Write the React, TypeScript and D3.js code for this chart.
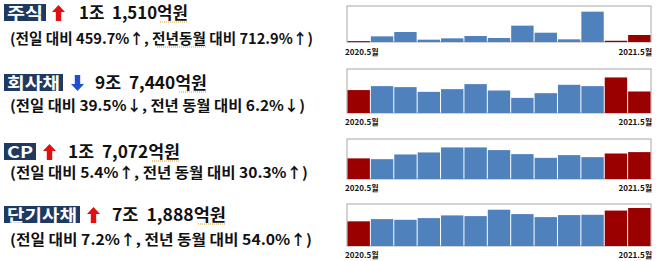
import React from "react";
import * as d3 from "d3";

const months = ["2020.5","2020.6","2020.7","2020.8","2020.9","2020.10","2020.11","2020.12","2021.1","2021.2","2021.3","2021.4","2021.5"];
const stockValues = [1416, 9300, 16400, 3800, 6000, 9900, 6600, 26900, 15300, 4400, 49900, 2056, 11510];
const corpBondValues = [103880, 121800, 117200, 95900, 108100, 130900, 102000, 68500, 89800, 127800, 121800, 161060, 97440];
const cpValues = [13102, 12590, 15580, 16860, 20060, 20060, 18350, 15790, 13440, 15150, 13870, 16197, 17072];
const shortBondValues = [46680, 50900, 49600, 52800, 57900, 56600, 68700, 60400, 54700, 58500, 59100, 67060, 71888];
const highlightIdx = [0, 11, 12];
const axisLabels = ["2020.5월", "2021.5월"];

const titles = ["주식", "회사채", "CP", "단기사채"];
const directions = ["up", "down", "up", "up"];
const amounts = ["1조  1,510억원", "9조  7,440억원", "1조  7,072억원", "7조  1,888억원"];
const details = [
  "(전일 대비 459.7%↑, 전년동월 대비 712.9%↑)",
  "(전일 대비 39.5%↓, 전년 동월 대비 6.2%↓)",
  "(전일 대비 5.4%↑, 전년 동월 대비 30.3%↑)",
  "(전일 대비 7.2%↑, 전년 동월 대비 54.0%↑)",
];

const FONT = "'Noto Sans CJK KR', 'Noto Sans', sans-serif";
const BLUE = "#4f81bd";
const RED = "#9b0000";
const NAVY = "#1f3a60";

const rows = [
  { values: stockValues, max: 59200, top: 6, base: 42, label: 55, boxTop: 4, boxX: [4, 46], arrowX: 52, amtX: [79, 188], detW: 303, detY: 44 },
  { values: corpBondValues, max: 199400, top: 69, base: 113, label: 125, boxTop: 74, boxX: [4, 63], arrowX: 71, amtX: [95, 207], detW: 295, detY: 111 },
  { values: cpValues, max: 25400, top: 139, base: 179, label: 191, boxTop: 143, boxX: [4, 36], arrowX: 43, amtX: [68, 180], detW: 298, detY: 178 },
  { values: shortBondValues, max: 79500, top: 204, base: 246, label: 258, boxTop: 206, boxX: [4, 80], arrowX: 87, amtX: [112, 226], detW: 302, detY: 245 },
];

const X0 = 347;
const X1 = 651;

function Arrow({ x, y, dir }: { x: number; y: number; dir: string }) {
  const w = 13, h = 16;
  const color = dir === "up" ? "#e01010" : "#1f4fd0";
  const s0 = 3.8, s1 = 9.2, hh = 7;
  let pts: [number, number][];
  if (dir === "up") {
    pts = [[x + w / 2, y], [x + w, y + hh], [x + s1, y + hh], [x + s1, y + h], [x + s0, y + h], [x + s0, y + hh], [x, y + hh]];
  } else {
    pts = [[x + s0, y], [x + s1, y], [x + s1, y + h - hh], [x + w, y + h - hh], [x + w / 2, y + h], [x, y + h - hh], [x + s0, y + h - hh]];
  }
  return <polygon points={pts.map((p) => p.join(",")).join(" ")} fill={color} />;
}

function Squiggle({ x1, x2, y }: { x1: number; x2: number; y: number }) {
  return <line x1={x1} x2={x2} y1={y} y2={y} stroke="#d9a030" strokeWidth={1} strokeDasharray="1,1" />;
}

export default function App() {
  return (
    <svg width={661} height={261} style={{ position: "absolute", left: 0, top: 0, background: "#fff" }}>
      {rows.map((r, ri) => {
        const x = d3.scaleBand<number>().domain(d3.range(months.length)).range([X0, X1]).paddingInner(0);
        const y = d3.scaleLinear().domain([0, r.max]).range([r.base, r.top]);
        const bw = x.bandwidth();
        return (
          <g key={ri}>
            <rect x={r.boxX[0]} y={r.boxTop} width={r.boxX[1] - r.boxX[0]} height={17} fill={NAVY} />
            <text x={(r.boxX[0] + r.boxX[1]) / 2} y={r.boxTop + 14.5} textAnchor="middle" fill="#fff" fontFamily={FONT} fontWeight={700} fontSize={16}
              textLength={r.boxX[1] - r.boxX[0] - 6} lengthAdjust="spacingAndGlyphs">{titles[ri]}</text>
            <Arrow x={r.arrowX} y={r.boxTop + 1} dir={directions[ri]} />
            <text x={r.amtX[0]} y={r.boxTop + 15} fill="#111" fontFamily={FONT} fontWeight={700} fontSize={17}
              style={{ whiteSpace: "pre" }}
              textLength={r.amtX[1] - r.amtX[0]} lengthAdjust="spacingAndGlyphs">{amounts[ri]}</text>
            <Squiggle x1={r.amtX[1] - 28} x2={r.amtX[1]} y={r.boxTop + 18} />
            <text x={10} y={r.detY} fill="#111" fontFamily={FONT} fontWeight={700} fontSize={14.5}
              textLength={r.detW} lengthAdjust="spacingAndGlyphs">{details[ri]}</text>
            {ri === 0 && <Squiggle x1={157} x2={206} y={r.detY + 3} />}
            <rect x={X0} y={r.top} width={X1 - X0} height={r.base - r.top} fill="none" stroke="#a8a8a8" strokeWidth={1} />
            {r.values.map((v, i) => (
              <rect key={i} x={(x(i) as number) + 0.5} y={y(v)} width={bw - 1} height={Math.max(1, r.base - y(v))}
                fill={highlightIdx.includes(i) ? RED : BLUE} />
            ))}
            <text x={X0 - 2} y={r.label} fontFamily={FONT} fontWeight={700} fontSize={8} fill="#111">{axisLabels[0]}</text>
            <text x={X1 + 1} y={r.label} textAnchor="end" fontFamily={FONT} fontWeight={700} fontSize={8} fill="#111">{axisLabels[1]}</text>
          </g>
        );
      })}
    </svg>
  );
}
